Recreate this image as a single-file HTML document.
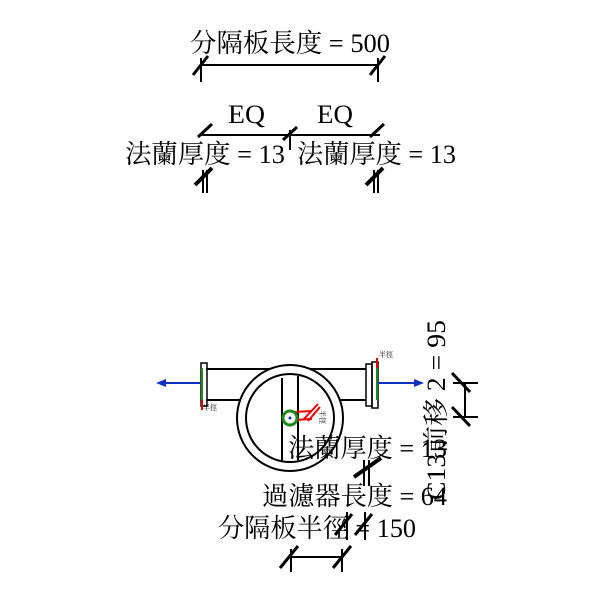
<!DOCTYPE html>
<html><head><meta charset="utf-8"><style>body{margin:0;background:#fff}svg{display:block}text{font-family:"Liberation Serif","Noto Serif CJK SC",serif;fill:#000}</style></head><body>
<svg width="600" height="600" viewBox="0 0 600 600">
<g stroke="#000" stroke-width="2" fill="none">
<line x1="200" y1="65" x2="378" y2="65"/>
<line x1="201" y1="58" x2="201" y2="82"/><line x1="378" y1="58" x2="378" y2="82"/>
<line x1="193" y1="75" x2="208" y2="56" stroke-width="3"/><line x1="370" y1="75" x2="385" y2="56" stroke-width="3"/>
<line x1="200" y1="135" x2="380" y2="135"/>
<line x1="290" y1="130" x2="290" y2="150"/>
<line x1="198" y1="137" x2="212" y2="124" stroke-width="3"/><line x1="283" y1="140" x2="297" y2="127" stroke-width="3"/><line x1="370" y1="137" x2="384" y2="124" stroke-width="3"/>
<line x1="203" y1="170" x2="203" y2="193"/><line x1="207" y1="170" x2="207" y2="193"/>
<line x1="195" y1="185" x2="212" y2="168" stroke-width="4"/>
<line x1="374" y1="170" x2="374" y2="193"/><line x1="378" y1="170" x2="378" y2="193"/>
<line x1="366" y1="185" x2="383" y2="168" stroke-width="4"/>
<line x1="206" y1="369" x2="366" y2="369"/>
<line x1="206" y1="400" x2="242" y2="400"/><line x1="338" y1="400" x2="366" y2="400"/>
<rect x="201" y="363" width="6" height="43" stroke-width="1.5"/>
<rect x="366" y="364" width="6" height="42" stroke-width="1.5"/>
<rect x="372" y="362" width="6" height="46" stroke-width="1.5"/>
<circle cx="290" cy="418" r="53" fill="#fff"/>
<circle cx="290" cy="418" r="44"/>
<line x1="282" y1="378" x2="282" y2="461"/><line x1="298" y1="376" x2="298" y2="460"/>
<line x1="465" y1="383" x2="465" y2="417"/>
<line x1="453" y1="383" x2="478" y2="383"/><line x1="453" y1="417" x2="478" y2="417"/>
<line x1="452" y1="373" x2="470" y2="392" stroke-width="3"/><line x1="452" y1="407" x2="470" y2="426" stroke-width="3"/>
<line x1="364" y1="460" x2="364" y2="486"/><line x1="369" y1="460" x2="369" y2="486"/>
<line x1="354" y1="477" x2="381" y2="458" stroke-width="4"/>
<line x1="347" y1="512" x2="347" y2="540"/><line x1="365" y1="512" x2="365" y2="540"/>
<line x1="335" y1="535" x2="352" y2="514" stroke-width="3"/><line x1="355" y1="535" x2="372" y2="514" stroke-width="3"/>
<line x1="288" y1="557" x2="343" y2="557"/>
<line x1="291" y1="549" x2="291" y2="572"/><line x1="342" y1="549" x2="342" y2="572"/>
<line x1="280" y1="568" x2="298" y2="546" stroke-width="3"/><line x1="333" y1="568" x2="351" y2="546" stroke-width="3"/>
</g>
<line x1="202" y1="368" x2="202" y2="400" stroke="#1a8a1a" stroke-width="2"/>
<line x1="202" y1="400" x2="202" y2="410" stroke="#d00" stroke-width="2"/>
<line x1="377" y1="368" x2="377" y2="400" stroke="#1a8a1a" stroke-width="2"/>
<line x1="377" y1="358" x2="377" y2="368" stroke="#d00" stroke-width="2"/>
<line x1="160" y1="383" x2="200" y2="383" stroke="#1030c0" stroke-width="2"/>
<polygon points="156,383 166,379 166,387" fill="#1030c0"/>
<line x1="378" y1="383" x2="420" y2="383" stroke="#1030c0" stroke-width="2"/>
<polygon points="424,383 414,379 414,387" fill="#1030c0"/>
<g stroke="#e00" stroke-width="2"><line x1="294" y1="412" x2="312" y2="411"/><line x1="294" y1="420" x2="312" y2="419"/><line x1="303" y1="420" x2="318" y2="404"/><line x1="308" y1="421" x2="320" y2="407"/></g>
<circle cx="290" cy="418" r="7" fill="#fff" stroke="#1a8a1a" stroke-width="3"/>
<circle cx="290" cy="418" r="1.5" fill="#1030c0"/>
<text x="203" y="410" font-size="7" fill="#334">半徑</text>
<text x="379" y="357" font-size="7" fill="#334">半徑</text>
<text x="320" y="410" font-size="7" fill="#334" transform="rotate(90 320 410)">半徑</text>
<g font-size="26">
<text x="190" y="52" textLength="200" lengthAdjust="spacingAndGlyphs">分隔板長度 = 500</text>
<text x="228" y="123" textLength="37" lengthAdjust="spacingAndGlyphs">EQ</text>
<text x="317" y="123" textLength="36" lengthAdjust="spacingAndGlyphs">EQ</text>
<text x="125" y="163" textLength="160" lengthAdjust="spacingAndGlyphs">法蘭厚度 = 13</text>
<text x="297" y="163" textLength="159" lengthAdjust="spacingAndGlyphs">法蘭厚度 = 13</text>
<text x="288" y="457" textLength="159" lengthAdjust="spacingAndGlyphs">法蘭厚度 = 13</text>
<text x="262" y="505" textLength="185" lengthAdjust="spacingAndGlyphs">過濾器長度 = 64</text>
<text x="218" y="537" textLength="198" lengthAdjust="spacingAndGlyphs">分隔板半徑 = 150</text>
<text transform="translate(445 500) rotate(-90)" textLength="180" lengthAdjust="spacingAndGlyphs">C13前移 2 = 95</text>
</g>
</svg>
</body></html>
